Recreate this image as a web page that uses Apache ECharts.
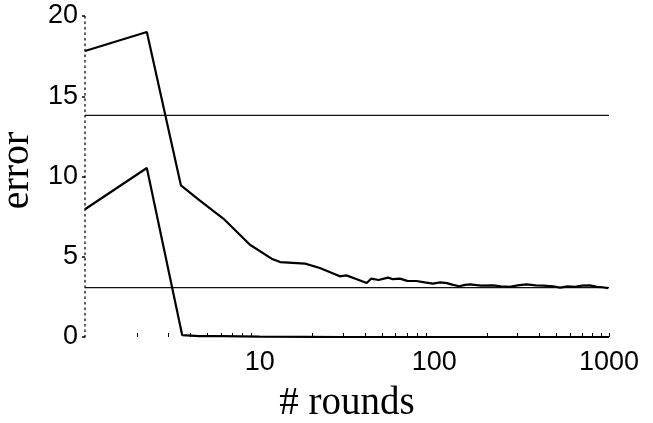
<!DOCTYPE html>
<html>
<head>
<meta charset="utf-8">
<script src="https://cdn.jsdelivr.net/npm/echarts@6/dist/echarts.min.js"></script>
<style>
html,body{margin:0;padding:0;background:#fff;}
#chart{width:653px;height:423px;}
</style>
</head>
<body>
<div id="chart"></div>
<script>
var testRounds = [1, 2.26, 3.54, 4.55, 6.19, 8.8, 11.7, 13.1, 18.2, 22.1, 28.8, 31.4, 36, 41, 43.6, 48, 54.2, 58, 63.5, 70, 79, 88, 98, 108, 118, 128, 139, 150, 160, 185, 217, 240, 271, 300, 337, 380, 420, 479, 525, 580, 640, 700, 778, 850, 920, 990];
var testError = [17.82, 19.0, 9.45, 8.5, 7.38, 5.75, 4.88, 4.67, 4.57, 4.3, 3.78, 3.84, 3.6, 3.36, 3.64, 3.55, 3.70, 3.6, 3.64, 3.5, 3.49, 3.4, 3.33, 3.4, 3.36, 3.25, 3.16, 3.25, 3.28, 3.2, 3.22, 3.15, 3.12, 3.22, 3.28, 3.22, 3.2, 3.16, 3.08, 3.15, 3.12, 3.2, 3.22, 3.12, 3.1, 3.05];
var trainRounds = [1, 2.26, 3.6, 4.5, 6, 10, 30, 1000];
var trainError = [7.96, 10.53, 0.12, 0.06, 0.05, 0.02, 0, 0];
var refLevels = [13.81, 3.08];
var xRange = [1, 1000];
var xLabelValues = [10, 100, 1000];
var xTickValues = [2,3,4,5,6,7,8,9,20,30,40,50,60,70,80,90,200,300,400,500,600,700,800,900,1000];
var yTicks = [0, 5, 10, 15, 20];

function pairs(xs, ys){ return xs.map(function(x,i){ return [x, ys[i]]; }); }

var series = [
  {type:'line', data: pairs(testRounds, testError), showSymbol:false, lineStyle:{color:'#000', width:2.2}, z:5},
  {type:'line', data: pairs(trainRounds, trainError), showSymbol:false, lineStyle:{color:'#000', width:2.2}, z:5}
];
refLevels.forEach(function(v){
  series.push({type:'line', data: xRange.map(function(x){return [x, v];}), showSymbol:false, lineStyle:{color:'#111', width:1.2}, z:3});
});

var chart = echarts.init(document.getElementById('chart'));
chart.setOption({
  animation:false,
  backgroundColor:'#fff',
  grid:{left:85, right:44, top:16, bottom:86, containLabel:false, outerBoundsMode:'none'},
  xAxis:{
    type:'log', logBase:10, min:xRange[0], max:xRange[1],
    axisLine:{show:false},
    splitLine:{show:false},
    axisTick:{show:true, inside:true, length:4, customValues:xTickValues, lineStyle:{color:'#000', width:1}},
    axisLabel:{customValues:xLabelValues, formatter:function(v){return String(Math.round(v));}, color:'#000', fontFamily:'Liberation Sans', fontSize:27, margin:12},
    name:'# rounds', nameLocation:'middle', nameGap:47,
    nameTextStyle:{fontFamily:'Liberation Serif', fontSize:39, color:'#000'}
  },
  yAxis:{
    type:'value', min:0, max:20, interval:5,
    axisLine:{show:true, lineStyle:{color:'#333', width:1.6, type:[1.5,4]}},
    splitLine:{show:false},
    axisTick:{show:true, inside:false, length:3, customValues:yTicks, lineStyle:{color:'#000', width:1.5}},
    axisLabel:{color:'#000', fontFamily:'Liberation Sans', fontSize:27, margin:7},
    name:'error', nameLocation:'middle', nameGap:37, nameRotate:90,
    nameTextStyle:{fontFamily:'Liberation Serif', fontSize:40, color:'#000', padding:[0,0,0,12]}
  },
  series: series
});
</script>
</body>
</html>
